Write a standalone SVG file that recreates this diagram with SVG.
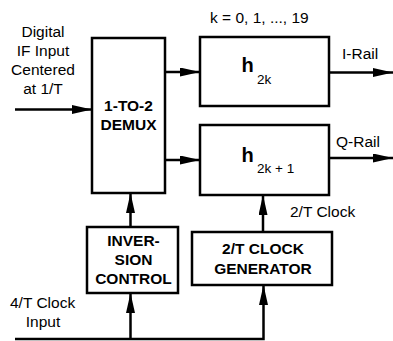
<svg xmlns="http://www.w3.org/2000/svg" width="393" height="341" viewBox="0 0 393 341">
<style>
.box{fill:#fff;stroke:#000;stroke-width:2.5}
.ln{fill:none;stroke:#000;stroke-width:2.5}
.t{font-family:"Liberation Sans",Arial,sans-serif;font-size:15.5px;fill:#000}
.b{font-weight:bold}
.m{text-anchor:middle}
</style>
<defs>
<marker id="ah" viewBox="0 0 20 9" markerWidth="20" markerHeight="9" refX="20" refY="4.5" orient="auto" markerUnits="userSpaceOnUse">
<path d="M0,0 L20,4.5 L0,9 Z" fill="#000"/>
</marker>
</defs>
<rect width="393" height="341" fill="#fff"/>
<g id="connectors">
<path class="ln" d="M15 109.5 H92" marker-end="url(#ah)"/>
<path class="ln" d="M165 72 H200" marker-end="url(#ah)"/>
<path class="ln" d="M165 160 H200" marker-end="url(#ah)"/>
<path class="ln" d="M329 72.5 H393" marker-end="url(#ah)"/>
<path class="ln" d="M329 158 H393" marker-end="url(#ah)"/>
<path class="ln" d="M130.5 227 V193" marker-end="url(#ah)"/>
<path class="ln" d="M263 232 V195" marker-end="url(#ah)"/>
<path class="ln" d="M15 339 H263.5 V285" marker-end="url(#ah)"/>
<path class="ln" d="M130.5 339 V293" marker-end="url(#ah)"/>
</g>
<g id="input-label">
<text class="t m" x="43" y="37">Digital</text>
<text class="t m" x="43" y="56">IF Input</text>
<text class="t m" x="43" y="75">Centered</text>
<text class="t m" x="43" y="94">at 1/T</text>
</g>
<g id="demux">
<rect class="box" x="92" y="38" width="73" height="155"/>
<text class="t b m" x="128.5" y="111">1-TO-2</text>
<text class="t b m" x="128.5" y="130">DEMUX</text>
</g>
<text class="t" x="210" y="23">k = 0, 1, ..., 19</text>
<g id="h2k">
<rect class="box" x="200" y="37" width="129" height="69"/>
<text class="t b" x="241.5" y="71.7" style="font-size:20px">h</text>
<text class="t" x="257" y="84" style="font-size:13.5px">2k</text>
</g>
<g id="h2k1">
<rect class="box" x="200" y="125" width="129" height="70"/>
<text class="t b" x="241.5" y="161.5" style="font-size:20px">h</text>
<text class="t" x="257" y="173" style="font-size:13.5px">2k + 1</text>
</g>
<text class="t" x="342" y="59">I-Rail</text>
<text class="t" x="336" y="147">Q-Rail</text>
<g id="inversion">
<rect class="box" x="87" y="227" width="91" height="66"/>
<text class="t b m" x="133.5" y="245.7">INVER-</text>
<text class="t b m" x="133.5" y="265">SION</text>
<text class="t b m" x="133.5" y="284">CONTROL</text>
</g>
<g id="clockgen">
<rect class="box" x="192" y="232" width="140" height="53"/>
<text class="t b m" x="263" y="254">2/T CLOCK</text>
<text class="t b m" x="263" y="274">GENERATOR</text>
</g>
<text class="t" x="290" y="217">2/T Clock</text>
<text class="t" x="10" y="308.3">4/T Clock</text>
<text class="t m" x="43" y="327">Input</text>
</svg>
